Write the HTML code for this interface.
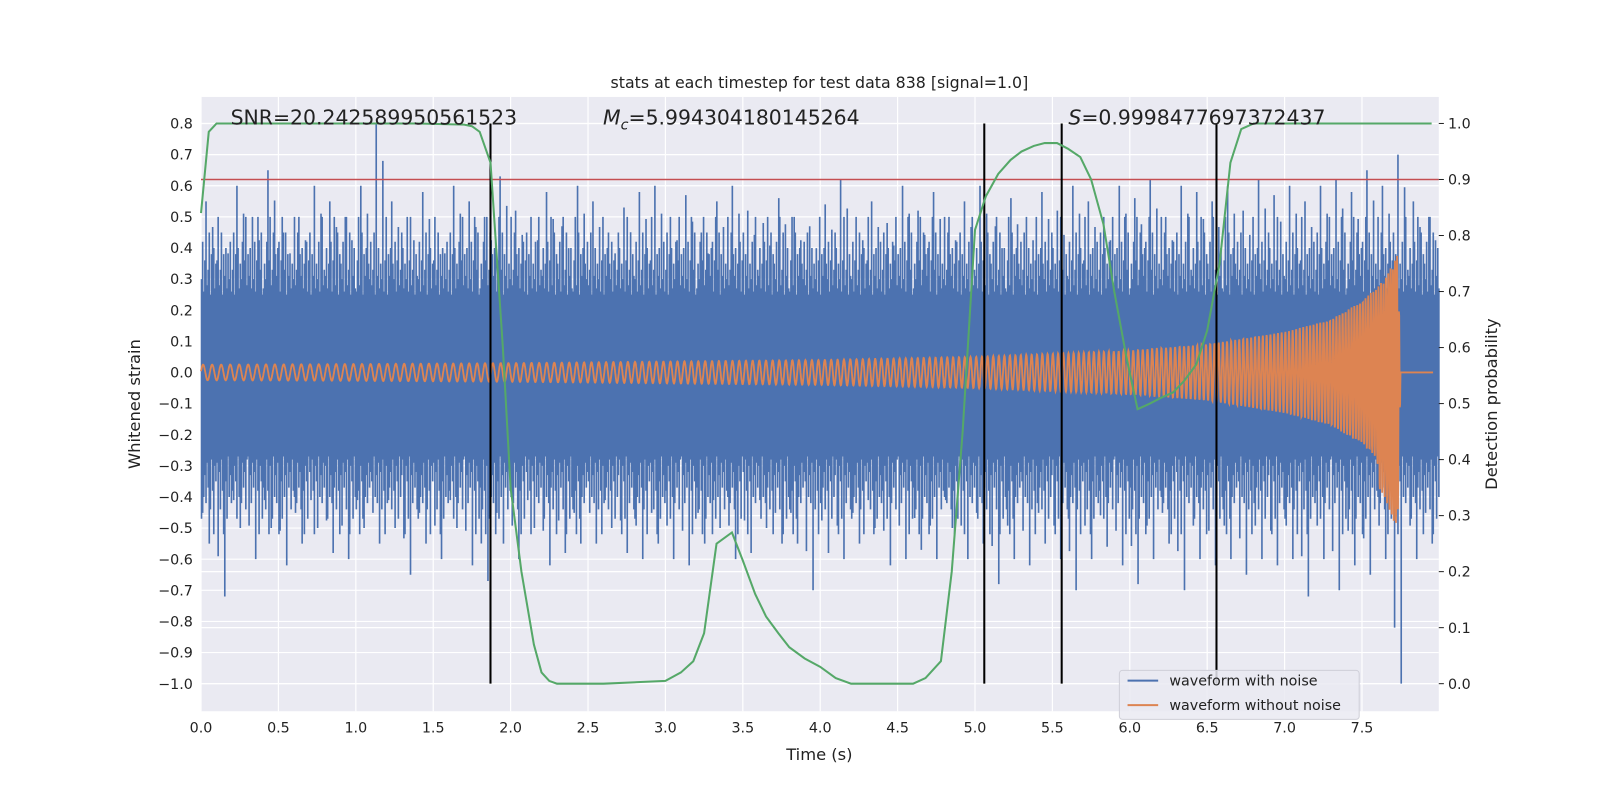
<!DOCTYPE html>
<html><head><meta charset="utf-8"><style>
html,body{margin:0;padding:0;background:#fff;}
svg{display:block;font-family:"DejaVu Sans","Liberation Sans",sans-serif;}
</style></head><body>
<svg id="chart" width="1600" height="800" viewBox="0 0 1568 784">
<rect x="197" y="95" width="1213" height="602" fill="#EAEAF2"/>
<g id="grid"></g>
<g id="marks"></g>
<g id="axes"></g>
<text x="803" y="86" font-size="15.5" text-anchor="middle" fill="#222">stats at each timestep for test data 838 [signal=1.0]</text>
<text x="226" y="122" font-size="20" fill="#222">SNR=20.242589950561523</text>
<text x="591" y="122" font-size="20" fill="#222"><tspan font-style="italic">M</tspan><tspan font-style="italic" font-size="14" dy="5">c</tspan><tspan dy="-5">=5.994304180145264</tspan></text>
<text x="1047" y="122" font-size="20" fill="#222"><tspan font-style="italic">S</tspan>=0.9998477697372437</text>
<text x="803" y="745" font-size="16" text-anchor="middle" fill="#222">Time (s)</text>
<text transform="translate(137,396) rotate(-90)" font-size="16" text-anchor="middle" fill="#222">Whitened strain</text>
<text transform="translate(1467,396) rotate(-90)" font-size="16" text-anchor="middle" fill="#222">Detection probability</text>
<g>
<rect x="1097" y="657" width="235" height="48" rx="3" fill="#EAEAF2" fill-opacity="0.85" stroke="#cfcfd8"/>
<line x1="1105" y1="667" x2="1135" y2="667" stroke="#4C72B0" stroke-width="2"/>
<text x="1146" y="672" font-size="14" fill="#222">waveform with noise</text>
<line x1="1105" y1="691" x2="1135" y2="691" stroke="#DD8452" stroke-width="2"/>
<text x="1146" y="696" font-size="14" fill="#222">waveform without noise</text>
</g>
</svg>
<script>
// data
const probTimes = [0,0.05,0.1,0.3,0.6,1.0,1.4,1.7,1.75,1.8,1.87,1.95,2.0,2.07,2.15,2.2,2.25,2.3,2.6,3.0,3.1,3.18,3.25,3.33,3.43,3.5,3.58,3.65,3.73,3.8,3.9,4.0,4.1,4.2,4.6,4.68,4.78,4.85,4.92,5.0,5.07,5.15,5.23,5.3,5.38,5.45,5.53,5.6,5.68,5.75,5.83,5.9,5.98,6.05,6.13,6.2,6.28,6.35,6.43,6.5,6.58,6.65,6.72,6.8,7.0,7.5,7.95];
const probValues = [0.84,0.985,1.0,1.0,1.0,1.0,1.0,0.998,0.995,0.985,0.93,0.6,0.35,0.2,0.07,0.02,0.005,0.0,0.0,0.005,0.02,0.04,0.09,0.25,0.27,0.22,0.16,0.12,0.09,0.065,0.045,0.03,0.01,0.0,0.0,0.01,0.04,0.2,0.45,0.81,0.87,0.91,0.935,0.95,0.96,0.965,0.965,0.955,0.94,0.9,0.82,0.7,0.58,0.49,0.5,0.51,0.52,0.54,0.57,0.63,0.75,0.93,0.99,1.0,1.0,1.0,1.0];
const noiseMax = [0.55,0.45,0.6,0.5,0.65,0.45,0.5,0.6,0.55,0.5,0.6,0.8,0.55,0.5,0.58,0.45,0.6,0.55,0.5,0.63,0.52,0.5,0.58,0.47,0.6,0.55,0.45,0.53,0.58,0.6,0.5,0.57,0.45,0.55,0.6,0.52,0.48,0.56,0.5,0.47,0.54,0.62,0.5,0.55,0.48,0.6,0.52,0.58,0.5,0.55,0.6,0.47,0.56,0.5,0.58,0.52,0.6,0.55,0.5,0.6,0.56,0.62,0.5,0.6,0.58,0.55,0.6,0.52,0.62,0.57,0.6,0.55,0.6,0.62,0.58,0.65,0.6,0.7,0.55,0.5];
const noiseMin = [-0.55,-0.72,-0.5,-0.6,-0.5,-0.62,-0.55,-0.5,-0.58,-0.6,-0.5,-0.55,-0.5,-0.65,-0.55,-0.6,-0.5,-0.62,-0.67,-0.55,-0.6,-0.5,-0.62,-0.58,-0.55,-0.55,-0.5,-0.58,-0.6,-0.55,-0.6,-0.62,-0.55,-0.5,-0.6,-0.58,-0.5,-0.55,-0.55,-0.7,-0.58,-0.6,-0.55,-0.5,-0.62,-0.6,-0.57,-0.6,-0.5,-0.6,-0.55,-0.68,-0.6,-0.62,-0.55,-0.6,-0.7,-0.6,-0.56,-0.62,-0.68,-0.6,-0.55,-0.7,-0.6,-0.62,-0.6,-0.65,-0.6,-0.62,-0.6,-0.72,-0.6,-0.7,-0.62,-0.65,-0.6,-1.0,-0.6,-0.55];
const spikeShape = [0.30,0.42,0.26,0.36,0.50,0.28,0.33,0.45,0.24,0.38,0.31,0.40,0.27,0.35];
const chirpTimes = [0,1,2,3,4,5,6,6.5,7,7.3,7.5,7.65,7.73,7.75,7.96];
const chirpAmp = [0.025,0.027,0.03,0.035,0.04,0.05,0.07,0.09,0.13,0.17,0.23,0.3,0.38,0.0,0.0];
const chirpFreq = [17,18,20,22,24,27,32,36,42,48,56,64,75,80,80];
const leftTicks = [0.8,0.7,0.6,0.5,0.4,0.3,0.2,0.1,0.0,-0.1,-0.2,-0.3,-0.4,-0.5,-0.6,-0.7,-0.8,-0.9,-1.0];
const rightTicks = [0.0,0.1,0.2,0.3,0.4,0.5,0.6,0.7,0.8,0.9,1.0];
const xTicks = [0.0,0.5,1.0,1.5,2.0,2.5,3.0,3.5,4.0,4.5,5.0,5.5,6.0,6.5,7.0,7.5];
const thresholdValue = 0.62;
const eventLines = [1.87,5.06,5.56,6.56];

const X0=197,X1=1410,Y0=95,Y1=697;
const xs=t=>197+t*151.7;
const yl=v=>365-v*305;
const yr=p=>670-p*549;
const NS='http://www.w3.org/2000/svg';
function mk(tag,attrs,parent){const e=document.createElementNS(NS,tag);for(const k in attrs)e.setAttribute(k,attrs[k]);parent.appendChild(e);return e;}
const grid=document.getElementById('grid'),marks=document.getElementById('marks'),axes=document.getElementById('axes');
const fmt=v=>(v<0?'\u2212':'')+Math.abs(v).toFixed(1);
leftTicks.forEach(v=>{
  const l=mk('line',{x1:X0,x2:X1,y1:yl(v),y2:yl(v),stroke:'#fff','stroke-width':1.2},grid);
  
  
  const t=mk('text',{x:X0-8,y:yl(v)+5,'font-size':14,'text-anchor':'end',fill:'#222'},axes);t.textContent=fmt(v);
  
  
});
rightTicks.forEach(v=>{
  const l=mk('line',{x1:X0,x2:X1,y1:yr(v),y2:yr(v),stroke:'#fff','stroke-width':1.2},grid);
  
  
  mk('line',{x1:X1,x2:X1+5,y1:yr(v),y2:yr(v),stroke:'#222'},axes);
  const t=mk('text',{x:X1+9,y:yr(v)+5,'font-size':14,fill:'#222'},axes);t.textContent=v.toFixed(1);
  
  
});
xTicks.forEach(v=>{
  const l=mk('line',{x1:xs(v),x2:xs(v),y1:Y0,y2:Y1,stroke:'#fff','stroke-width':1.2},grid);
  
  
  const t=mk('text',{x:xs(v),y:Y1+21,'font-size':14,'text-anchor':'middle',fill:'#222'},axes);t.textContent=v.toFixed(1);
  
  
});
// noisy waveform
const bw=8/noiseMax.length;
const per=14;
let d='';
noiseMax.forEach((mx,i)=>{
  const mn=noiseMin[i];
  for(let k=0;k<per;k++){
    const t=i*bw+bw*(k+0.5)/per;
    let top=spikeShape[(i*3+k)%spikeShape.length];
    let bot=-spikeShape[(i*5+k+7)%spikeShape.length]-0.02;
    if(k===4)top=mx; else if(k===10)top=mx*0.85;
    if(k===7)bot=mn; else if(k===1)bot=mn*0.82;
    d+='M'+xs(t).toFixed(1)+' '+yl(top).toFixed(1)+'V'+yl(bot).toFixed(1);
  }
});
const core=mk('rect',{x:xs(0),y:yl(0.25),width:xs(8)-xs(0),height:yl(-0.27)-yl(0.25),fill:'#4C72B0'},marks);


const np=mk('path',{d:d,stroke:'#4C72B0','stroke-width':1.6,fill:'none'},marks);


// clean chirp
function interp(arr,t){for(let i=1;i<chirpTimes.length;i++){if(t<=chirpTimes[i]){const a=chirpTimes[i-1],b=chirpTimes[i];return arr[i-1]+(arr[i]-arr[i-1])*(t-a)/(b-a);}}return arr[arr.length-1];}
let cd='',ph=0;const dt=0.0015;
for(let t=0;t<=7.96;t+=dt){
  const a=interp(chirpAmp,t);
  ph+=2*Math.PI*interp(chirpFreq,t)*dt;
  cd+=(t===0?'M':'L')+xs(t).toFixed(1)+' '+yl(a*Math.sin(ph)*(t>7.6&&t<7.75&&Math.sin(ph)<0?1.35:1)).toFixed(1);
}
const cp=mk('path',{d:cd,fill:'none',stroke:'#DD8452','stroke-width':1.8},marks);


// threshold
const th=mk('line',{x1:X0,x2:X1,y1:yl(thresholdValue),y2:yl(thresholdValue),stroke:'#C44E52','stroke-width':1.5},marks);


// event lines
eventLines.forEach(t=>{
  const l=mk('line',{x1:xs(t),x2:xs(t),y1:yr(1),y2:yr(0),stroke:'#000','stroke-width':2},marks);
  
  
});
// probability
const pd=probTimes.map((t,i)=>(i?'L':'M')+xs(t).toFixed(1)+' '+yr(probValues[i]).toFixed(1)).join('');
const pp=mk('path',{d:pd,stroke:'#55A868','stroke-width':2,fill:'none'},marks);


</script>
</body></html>
